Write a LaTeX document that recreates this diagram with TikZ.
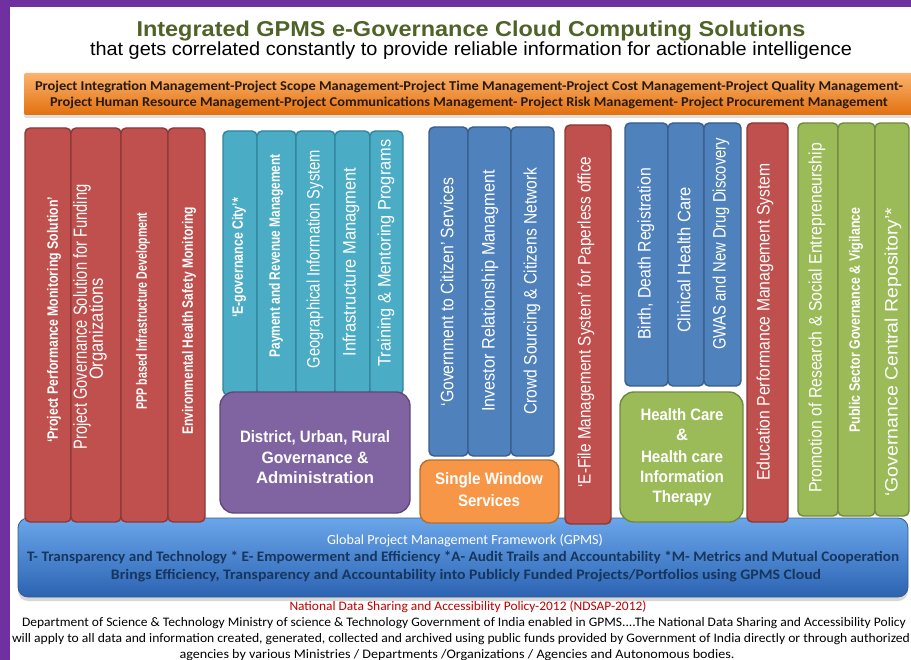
\documentclass[tikz,border=0pt]{standalone}
\usepackage{fontspec}
\usepackage{graphicx}
\setmainfont{Liberation Sans}
\newfontfamily\ars{Liberation Sans}
\newfontfamily\calib{Carlito}
\usetikzlibrary{fit,shadows}
\definecolor{gpurple}{HTML}{7030A0}
\definecolor{tolive}{HTML}{4F6228}
\definecolor{redf}{HTML}{C0504D}
\definecolor{redd}{HTML}{8C3836}
\definecolor{tealf}{HTML}{4BACC6}
\definecolor{teald}{HTML}{31859C}
\definecolor{purf}{HTML}{8064A2}
\definecolor{purd}{HTML}{5F497A}
\definecolor{bluef}{HTML}{4F81BD}
\definecolor{blued}{HTML}{385D8A}
\definecolor{orf}{HTML}{F79646}
\definecolor{ord}{HTML}{B66D31}
\definecolor{grf}{HTML}{9BBB59}
\definecolor{grd}{HTML}{71893F}
\definecolor{navy}{HTML}{17365D}
\definecolor{ndred}{HTML}{C00000}
\definecolor{banntext}{HTML}{2A1A0A}
\definecolor{bartop}{HTML}{6AA6EA}
\definecolor{barmid}{HTML}{3D7ED4}
\definecolor{barbot}{HTML}{2C63B2}
\definecolor{bantop}{HTML}{FBB36E}
\definecolor{banmid}{HTML}{F8912F}
\definecolor{banbot}{HTML}{E2700E}
\newlength\fitlen
\newcommand\fitw[2]{\settowidth\fitlen{#2}\pgfmathsetmacro\fitfac{#1/\fitlen}\scalebox{\fitfac}[1]{#2}}
\newcommand\bx[6]{\node[#2, fit={(#3,#4) (#5,#6)}] (#1) {};}
\tikzset{
  col/.style={draw, line width=1.4pt, rounded corners=5pt, inner sep=0pt},
  redc/.style={col, fill=redf, draw=redd},
  tealc/.style={col, fill=tealf, draw=teald},
  bluec/.style={col, fill=bluef, draw=blued},
  greenc/.style={col, fill=grf, draw=grd},
  bigbox/.style={col, rounded corners=14pt},
  vt/.style={rotate=90, inner sep=0pt, text=white},
  vb/.style={vt, font=\ars\bfseries\fontsize{15}{16}\selectfont},
  vr/.style={vt, font=\ars\fontsize{18}{19}\selectfont},
  ht/.style={text=white, inner sep=0pt, font=\ars\bfseries\fontsize{16.5}{18}\selectfont},
  bant/.style={inner sep=0pt, text=banntext, font=\calib\bfseries\fontsize{13.5}{15}\selectfont},
  bart/.style={inner sep=0pt, text=navy, font=\calib\bfseries\fontsize{14.5}{16}\selectfont},
  foot/.style={inner sep=0pt, text=black, font=\calib\fontsize{13}{14}\selectfont},
}
\begin{document}
\begin{tikzpicture}[x=1pt,y=-1pt]
\useasboundingbox (0,0) rectangle (911,660);
% frame
\fill[white] (0,0) rectangle (911,660);
\fill[gpurple] (0,0) rectangle (911,7);
\fill[gpurple] (0,0) rectangle (10,660);
% header
\node[inner sep=0pt, text=tolive, font=\ars\bfseries\fontsize{21.5}{24}\selectfont] (title) at (471,31) {\fitw{669}{Integrated GPMS e-Governance  Cloud Computing Solutions}};
\node[inner sep=0pt, font=\ars\fontsize{19}{20}\selectfont] (sub) at (471,51) {\fitw{762}{that gets correlated constantly to provide reliable information for actionable intelligence}};
% orange banner
\node[fit={(24,73) (915,115)}, inner sep=0pt, rounded corners=2pt, top color=bantop, middle color=banmid, bottom color=banbot, drop shadow={opacity=0.25, shadow xshift=0pt, shadow yshift=-3pt}] (ban) {};
\node[bant] (ban1) at (469,87) {\fitw{868}{Project Integration Management-Project Scope Management-Project Time Management-Project Cost Management-Project Quality Management-}};
\node[bant] (ban2) at (469,103) {\fitw{838}{Project Human Resource Management-Project Communications Management- Project Risk Management- Project Procurement Management}};
% base bar
\node[fit={(18,518) (908,597)}, inner sep=0pt, rounded corners=10pt, draw=blued, line width=0.8pt, top color=bartop, middle color=barmid, bottom color=barbot, drop shadow={opacity=0.3, shadow xshift=0pt, shadow yshift=-4pt}] (bar) {};
% red group
\bx{r1}{redc}{25}{128}{71}{522}
\bx{r2}{redc}{71}{128}{121}{522}
\bx{r3}{redc}{121}{128}{168}{522}
\bx{r4}{redc}{168}{128}{205}{522}
\node[vb] (r1t) at (54,320) {\fitw{246}{‘Project Performance  Monitoring Solution’}};
\node[vr, font=\ars\fontsize{19}{20}\selectfont] (r2t) at (82,317) {\fitw{265}{Project Governance Solution for Funding}};
\node[vr, font=\ars\fontsize{19}{20}\selectfont] (r2u) at (98,329) {\fitw{102}{Organizations}};
\node[vb] (r3t) at (143,311) {\fitw{197}{PPP based Infrastructure  Development}};
\node[vb] (r4t) at (189,321) {\fitw{228}{Environmental Health  Safety  Monitoring}};
% teal group
\bx{t1}{tealc}{223}{131}{257}{395}
\bx{t2}{tealc}{257}{131}{296}{395}
\bx{t3}{tealc}{296}{131}{335}{395}
\bx{t4}{tealc}{335}{131}{370}{395}
\bx{t5}{tealc}{370}{131}{403}{395}
\node[vb] (t1t) at (239,258) {\fitw{120}{‘E-governance  City’*}};
\node[vb] (t2t) at (276,256) {\fitw{203}{Payment and Revenue  Management}};
\node[vr] (t3t) at (315,259) {\fitw{218}{Geographical Information System}};
\node[vr] (t4t) at (351,262) {\fitw{189}{Infrastructure Managment}};
\node[vr] (t5t) at (386,253) {\fitw{227}{Training \& Mentoring Programs}};
\bx{dist}{bigbox, fill=purf, draw=purd}{220}{392}{410}{513}
\node[ht] (dist1) at (315,438) {\fitw{150}{District, Urban, Rural}};
\node[ht] (dist2) at (315,458) {\fitw{107}{Governance \&}};
\node[ht] (dist3) at (315,478) {\fitw{118}{Administration}};
% blue group
\bx{b1}{bluec}{429}{127}{468}{456}
\bx{b2}{bluec}{468}{127}{511}{456}
\bx{b3}{bluec}{511}{127}{554}{456}
\node[vr] (b1t) at (447,292) {\fitw{229}{‘Government to Citizen’ Services}};
\node[vr] (b2t) at (490,291) {\fitw{242}{Investor Relationship Managment}};
\node[vr] (b3t) at (532,291) {\fitw{247}{Crowd Sourcing \& Citizens Network}};
\bx{sw}{col, rounded corners=10pt, fill=orf, draw=ord}{420}{460}{559}{523}
\node[ht] (sw1) at (489,480) {\fitw{108}{Single Window}};
\node[ht] (sw2) at (489,501) {\fitw{62}{Services}};
\bx{ef}{redc}{565}{125}{611}{524}
\node[vr] (eft) at (586,322) {\fitw{331}{‘E-File Management System’ for Paperless office}};
% health group
\bx{h1}{bluec}{625}{123}{668}{386}
\bx{h2}{bluec}{668}{123}{704}{386}
\bx{h3}{bluec}{704}{123}{741}{386}
\node[vr] (h1t) at (646,254) {\fitw{172}{Birth, Death Registration}};
\node[vr] (h2t) at (684,260) {\fitw{146}{Clinical Health Care}};
\node[vr] (h3t) at (721,244) {\fitw{212}{GWAS and New Drug Discovery}};
\bx{hc}{bigbox, fill=grf, draw=grd}{620}{392}{743}{522}
\node[ht] (hc1) at (682,415) {\fitw{83}{Health Care}};
\node[ht] (hc2) at (682,435) {\&};
\node[ht] (hc3) at (682,457) {\fitw{82}{Health care}};
\node[ht] (hc4) at (682,477) {\fitw{84}{Information}};
\node[ht] (hc5) at (682,498) {\fitw{59}{Therapy}};
\bx{ed}{redc}{747}{123}{788}{522}
\node[vr] (edt) at (765,322) {\fitw{317}{Education Performance Management System}};
% green group
\bx{g1}{greenc}{798}{123}{838}{516}
\bx{g2}{greenc}{838}{123}{875}{516}
\bx{g3}{greenc}{875}{123}{909}{516}
\node[vr] (g1t) at (817,318) {\fitw{350}{Promotion of Research \&  Social Entrepreneurship}};
\node[vb] (g2t) at (856,320) {\fitw{225}{Public Sector Governance \& Vigilance}};
\node[vr] (g3t) at (893,352) {\fitw{289}{‘Governance Central Repository’*}};
% bar texts
\node[inner sep=0pt, text=white, font=\calib\fontsize{14}{15}\selectfont] (bar1) at (465,541) {\fitw{276}{Global Project Management Framework (GPMS)}};
\node[bart] (bar2) at (463,558) {\fitw{872}{T- Transparency  and Technology  * E- Empowerment  and Efficiency *A- Audit Trails and Accountability  *M- Metrics and Mutual  Cooperation}};
\node[bart] (bar3) at (466,576) {\fitw{710}{Brings Efficiency, Transparency and Accountability into Publicly Funded Projects/Portfolios using GPMS Cloud}};
% footer
\node[foot, text=ndred] (f0) at (468,607) {\fitw{357}{National Data Sharing and Accessibility  Policy-2012 (NDSAP-2012)}};
\node[foot] (f1) at (464,623) {\fitw{884}{Department of Science \& Technology  Ministry of science  \& Technology Government of India enabled in GPMS....The  National Data Sharing and Accessibility  Policy}};
\node[foot] (f2) at (461,639) {\fitw{898}{will apply to all data and information created, generated, collected and archived  using public funds provided by Government of India directly or through authorized}};
\node[foot] (f3) at (457,655) {\fitw{555}{agencies by various Ministries  / Departments /Organizations  / Agencies and Autonomous bodies.}};
\end{tikzpicture}
\end{document}
